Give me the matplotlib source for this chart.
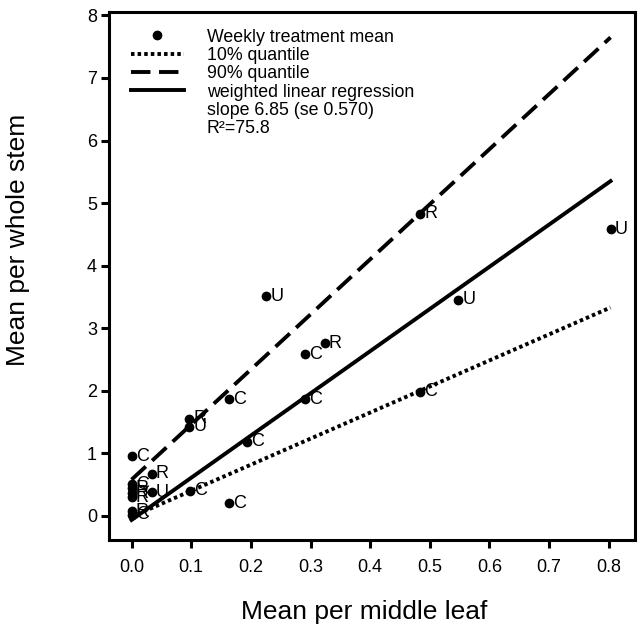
import matplotlib
matplotlib.use("Agg")
import matplotlib.pyplot as plt
from matplotlib.lines import Line2D
import numpy as np

plt.rcParams['font.family'] = ['Liberation Sans', 'DejaVu Sans']

# Weekly treatment means
leaf_mean = [0.803, 0.484, 0.226, 0.548, 0.324, 0.291, 0.163, 0.291, 0.484,
             0.097, 0.097, 0.194, 0.001, 0.034, 0.034, 0.098, 0.163,
             0.0, 0.0, 0.0, 0.0, 0.0, 0.0]
stem_mean = [4.58, 4.83, 3.51, 3.45, 2.76, 2.58, 1.86, 1.86, 1.98,
             1.55, 1.42, 1.18, 0.95, 0.67, 0.37, 0.40, 0.20,
             0.50, 0.44, 0.36, 0.29, 0.07, 0.01]
treatment = ['U', 'R', 'U', 'U', 'R', 'C', 'C', 'C', 'C',
             'R', 'U', 'C', 'C', 'R', 'U', 'C', 'C',
             'C', 'R', 'R', 'R', 'R', 'C']

# fitted lines: (intercept, slope)
q10 = (-0.02, 4.17)
q90 = (0.575, 8.81)
wlr = (-0.07, 6.75)
line_x = [0.0, 0.803]

x_ticks = [0.0, 0.1, 0.2, 0.3, 0.4, 0.5, 0.6, 0.7, 0.8]
y_ticks = [0, 1, 2, 3, 4, 5, 6, 7, 8]

fig = plt.figure(figsize=(6.38, 6.27), dpi=100)
ax = fig.add_axes([0.1716, 0.1388, 0.9953 - 0.1716, 0.9813 - 0.1388])

lx = np.array(line_x)
ax.plot(lx, q10[0] + q10[1] * lx, color='black', lw=2.8, linestyle=(0, (0.9, 0.8)),
        solid_capstyle='butt', dash_capstyle='butt')
ax.plot(lx, q90[0] + q90[1] * lx, color='black', lw=2.8, linestyle=(0, (5, 2.2)),
        dash_capstyle='butt')
ax.plot(lx, wlr[0] + wlr[1] * lx, color='black', lw=2.8, linestyle='-')

ax.plot(leaf_mean, stem_mean, 'o', color='black', ms=6, zorder=3)
for xv, yv, t in zip(leaf_mean, stem_mean, treatment):
    ax.annotate(t, (xv, yv), xytext=(3, 0), textcoords='offset points',
                ha='left', va='center', fontsize=13)

ax.set_xlim(-0.037, 0.844)
ax.set_ylim(-0.39, 8.06)
ax.set_xticks(x_ticks)
ax.set_xticklabels([f"{v:.1f}" for v in x_ticks])
ax.set_yticks(y_ticks)
ax.set_yticklabels([str(v) for v in y_ticks])

for s in ax.spines.values():
    s.set_linewidth(2.2)
ax.tick_params(axis='both', direction='out', length=5.5, width=2.2, labelsize=13)
ax.tick_params(axis='x', pad=8)
ax.tick_params(axis='y', pad=3.5)

ax.set_xlabel('Mean per middle leaf', fontsize=19, va='center')
ax.xaxis.set_label_coords(0.484, -0.1363)
ax.set_ylabel('Mean per whole stem', fontsize=19, va='center')
ax.yaxis.set_label_coords(-0.174, 0.568)

handles = [
    Line2D([], [], marker='o', color='black', linestyle='none', ms=6),
    Line2D([], [], color='black', lw=2.8, linestyle=(0, (0.9, 0.8))),
    Line2D([], [], color='black', lw=2.8, linestyle=(0, (5, 2.2))),
    Line2D([], [], color='black', lw=2.8),
    Line2D([], [], color='none'),
    Line2D([], [], color='none'),
]
labels = ['Weekly treatment mean', '10% quantile', '90% quantile',
          'weighted linear regression', 'slope 6.85 (se 0.570)', 'R\u00b2=75.8']
leg = ax.legend(handles, labels, loc='upper left', bbox_to_anchor=(0.04, 0.968),
                frameon=False, fontsize=12.8, handlelength=3.0, handletextpad=1.3,
                labelspacing=0.075, borderpad=0, borderaxespad=0)

fig.savefig('out.png', dpi=100)
